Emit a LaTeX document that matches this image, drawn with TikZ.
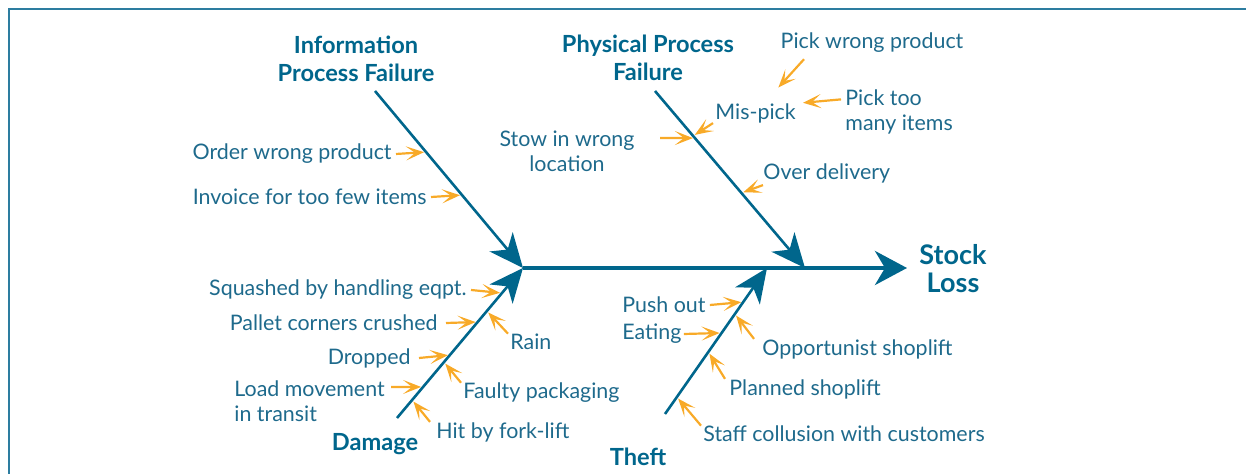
\documentclass[tikz,border=0pt]{standalone}
\usepackage{fontspec}
\setmainfont{Lato}
\usetikzlibrary{arrows.meta,calc}
\definecolor{bone}{RGB}{0,102,140}
\definecolor{txt}{RGB}{30,106,140}
\definecolor{hintc}{RGB}{248,170,40}
\definecolor{frame}{RGB}{45,125,160}

\begin{document}
\begin{tikzpicture}[x=0.5pt,y=-0.5pt,
  lbl/.style={text=txt,font=\fontsize{10.7}{12.5}\selectfont,inner sep=0pt,yshift=-1pt},
  head/.style={text=bone,font=\bfseries\fontsize{11.8}{14}\selectfont,align=center,inner sep=0pt},
  spine/.style={draw=bone,line width=2pt,-{Stealth[length=16pt,width=17pt,inset=5pt]}},
  rib/.style={draw=bone,line width=1.3pt,-{Stealth[length=17pt,width=15pt,inset=5pt]}},
  hint/.style={draw=hintc,line width=1.1pt,-{Stealth[length=9pt,width=7pt,inset=4.5pt]},shorten >=1pt}]
\useasboundingbox (0,0) rectangle (1246,474);
\draw[frame,line width=1pt] (9,474) -- (9,9) -- (1246,9);

\coordinate (fish) at (523,268);
\coordinate (tip) at (907,268);
\coordinate (iS) at (375,91);
\coordinate (pS) at (655,91);
\coordinate (pT) at (805,268);
\coordinate (dS) at (397,418);
\coordinate (tS) at (665,414);
\coordinate (tT) at (767,268);

\draw[spine] (fish) -- (tip);
\draw[rib] (iS) -- (fish);
\draw[rib] (pS) -- (pT);
\draw[rib] (dS) -- (fish);
\draw[rib] (tS) -- (tT);

\node[head] (info) at (356,59) {Information\\Process Failure};
\node[head] (phys) at (648,58) {Physical Process\\Failure};
\node[head,font=\bfseries\fontsize{13.5}{14}\selectfont] (loss) at (953,269) {Stock\\Loss};
\node[head] (dmg) at (375,444) {Damage};
\node[head] (theft) at (638,457) {Theft};

\node[lbl,anchor=east] (owp) at (392,152) {Order wrong product};
\node[lbl,anchor=east] (inv) at (427,195) {Invoice for too few items};
\draw[hint] ([xshift=2pt]owp.east) -- ($(iS)!0.345!(fish)$);
\draw[hint] ([xshift=2pt]inv.east) -- ($(iS)!0.588!(fish)$);

\node[lbl,align=center] (stow) at (567,149) {Stow in wrong\\location};
\node[lbl,anchor=west] (mis) at (715,111) {Mis-pick};
\node[lbl] (pwp) at (872,41) {Pick wrong product};
\node[lbl,anchor=west,align=left] (ptm) at (845,110) {Pick too\\many items};
\node[lbl,anchor=west] (od) at (763,171) {Over delivery};
\coordinate (m1) at (777,89);
\coordinate (m2) at (801,103);
\draw[hint] (660,138) -- ($(pS)!0.266!(pT)$);
\draw[hint] ([xshift=-1pt]mis.south west) -- ($(pS)!0.254!(pT)$);
\draw[hint] ([xshift=-34pt,yshift=-3pt]pwp.south) -- (m1);
\draw[hint] ([xshift=-2pt,yshift=-5pt]ptm.north west) -- (m2);
\draw[hint] ([yshift=-1pt]od.south west) -- ($(pS)!0.576!(pT)$);

\node[lbl,anchor=east] (sq) at (467,288) {Squashed by handling eqpt.};
\node[lbl,anchor=east] (pal) at (438,321) {Pallet corners crushed};
\node[lbl,anchor=east] (drop) at (411,356) {Dropped};
\node[lbl,anchor=west,align=left] (load) at (234,399) {Load movement\\in transit};
\node[lbl,anchor=west] (rain) at (510,340) {Rain};
\node[lbl,anchor=west] (faulty) at (463,391) {Faulty packaging};
\node[lbl,anchor=west] (hit) at (436,430) {Hit by fork-lift};
\draw[hint] ([xshift=2pt]sq.east) -- ($(dS)!0.833!(fish)$);
\draw[hint] ([xshift=4pt]pal.east) -- ($(dS)!0.64!(fish)$);
\draw[hint] ([xshift=4pt]drop.east) -- ($(dS)!0.42!(fish)$);
\draw[hint] (391,387) -- ($(dS)!0.207!(fish)$);
\draw[hint] ([xshift=-1pt]rain.north west) -- ($(dS)!0.713!(fish)$);
\draw[hint] ([xshift=-1pt]faulty.north west) -- ($(dS)!0.373!(fish)$);
\draw[hint] ([xshift=-3pt]hit.north west) -- ($(dS)!0.12!(fish)$);

\node[lbl,anchor=west] (push) at (622,303) {Push out};
\node[lbl,anchor=west] (eat) at (622,332) {Eating};
\node[lbl,anchor=west] (opp) at (762,347) {Opportunist shoplift};
\node[lbl,anchor=west] (plan) at (729,387) {Planned shoplift};
\node[lbl,anchor=west] (staff) at (703,432) {Staff collusion with customers};
\draw[hint] ([xshift=2pt]push.east) -- ($(tS)!0.767!(tT)$);
\draw[hint] ([xshift=1pt]eat.east) -- ($(tS)!0.555!(tT)$);
\draw[hint] ([xshift=-4pt]opp.north west) -- ($(tS)!0.685!(tT)$);
\draw[hint] ([xshift=-2pt]plan.north west) -- ($(tS)!0.425!(tT)$);
\draw[hint] ([xshift=-1pt]staff.north west) -- ($(tS)!0.116!(tT)$);
\end{tikzpicture}
\end{document}
